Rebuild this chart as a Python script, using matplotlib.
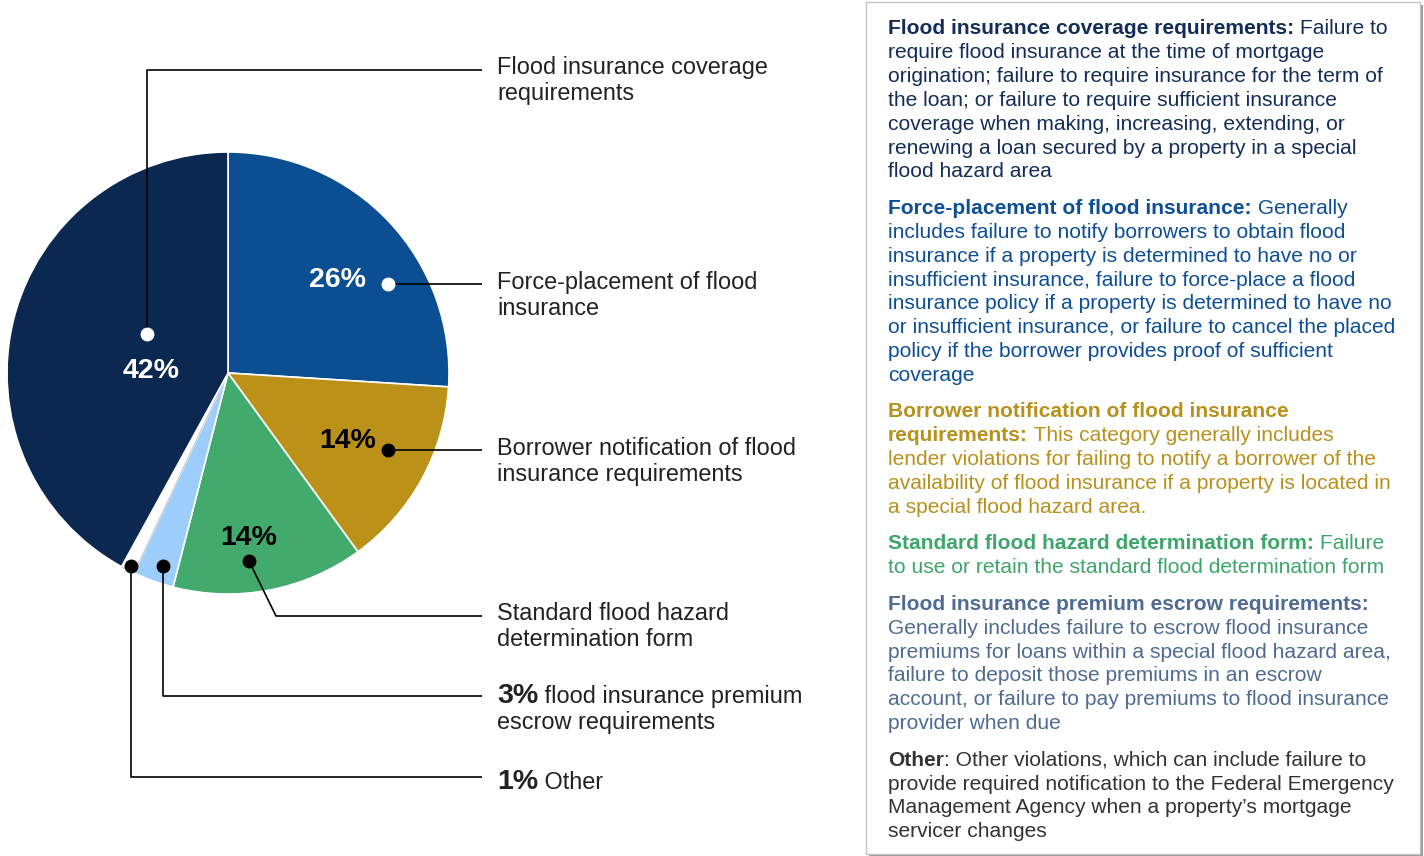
import matplotlib.pyplot as plt
from matplotlib.patches import Rectangle

plt.rcParams['font.family'] = ['Liberation Sans', 'DejaVu Sans']

# Share of flood-insurance violations by category, clockwise from 12 o'clock
categories = ['Force-placement', 'Borrower notification', 'Standard form',
              'Premium escrow', 'Other', 'Coverage requirements']
shares = [26, 14, 14, 3, 1, 42]
slice_colors = ['#0b4e91', '#bb9118', '#41aa6c', '#9ccdfb', '#ffffff', '#0b2850']

W, H = 1424, 856


def py(y):
    # pixel row (from top) -> data y
    return H - y


fig = plt.figure(figsize=(W / 100, H / 100), dpi=100, facecolor='white')
ax = fig.add_axes([0, 0, 1, 1])
wedges, _ = ax.pie(shares, colors=slice_colors, startangle=90, counterclock=False,
                   center=(228, py(373)), radius=221,
                   wedgeprops=dict(edgecolor='white', linewidth=1.2))
wedges[4].set_edgecolor('#c8c8c8')
wedges[4].set_linewidth(0.8)
ax.set_xlim(0, W)
ax.set_ylim(0, H)
ax.set_aspect('auto')
ax.axis('off')

renderer = fig.canvas.get_renderer()


def mixed(x, y, parts, color, size):
    """Draw a line made of (text, bold, size) pieces one after another."""
    for piece in parts:
        txt, bold = piece[0], piece[1]
        sz = piece[2] if len(piece) > 2 else size
        t = ax.text(x, y, txt, fontsize=sz, color=color,
                    fontweight='bold' if bold else 'normal', va='baseline', ha='left')
        x += t.get_window_extent(renderer=renderer).width


# percentage labels inside the pie
pct_pos = {0: (338, 280, 'white'), 1: (348, 441, 'black'), 2: (249, 538, 'black'),
           5: (151, 371, 'white')}
for i, (x, y, c) in pct_pos.items():
    ax.text(x, py(y), f'{shares[i]}%', fontsize=20.5, fontweight='bold', color=c,
            ha='center', va='center')

# leader lines with dots
LX = 482
leaders = [
    ([(147, 334), (147, 70), (LX, 70)], 'white'),
    ([(388, 284), (LX, 284)], 'white'),
    ([(388, 450), (LX, 450)], 'black'),
    ([(249, 561), (276, 616), (LX, 616)], 'black'),
    ([(163, 566), (163, 696), (LX, 696)], 'black'),
    ([(131, 566), (131, 777), (LX, 777)], 'black'),
]
for pts, dot in leaders:
    xs = [p[0] for p in pts]
    ys = [py(p[1]) for p in pts]
    ax.plot(xs, ys, color='black', lw=1.2, solid_capstyle='butt')
    ax.plot(xs[0], ys[0], 'o', ms=9, color=dot, mec=dot, zorder=5)

# category labels to the right of the pie
LBL = '#222222'
LS = 16.9
label_lines = [
    (67, 'Flood insurance coverage'), (93, 'requirements'),
    (282, 'Force-placement of flood'), (308, 'insurance'),
    (448, 'Borrower notification of flood'), (474, 'insurance requirements'),
    (613, 'Standard flood hazard'), (639, 'determination form'),
    (722, 'escrow requirements'),
]
for y, s in label_lines:
    ax.text(497, py(y + 7), s, fontsize=LS, color=LBL, va='baseline')
mixed(497, py(695 + 8), [(f'{shares[3]}%', True, 20.5),
                         (' flood insurance premium', False)], LBL, LS)
mixed(497, py(781 + 8), [(f'{shares[4]}%', True, 20.5), (' Other', False)], LBL, LS)

# definitions panel
ax.add_patch(Rectangle((869, py(857)), 554, 852, facecolor='#9a9a9a', edgecolor='none',
                       zorder=1))
ax.add_patch(Rectangle((866, py(854)), 554, 852, facecolor='white', edgecolor='#c4c4c4',
                       lw=1, zorder=2))

paragraphs = [
    ('#132d58', [
        [('Flood insurance coverage requirements:', True), (' Failure to', False)],
        [('require flood insurance at the time of mortgage', False)],
        [('origination; failure to require insurance for the term of', False)],
        [('the loan; or failure to require sufficient insurance', False)],
        [('coverage when making, increasing, extending, or', False)],
        [('renewing a loan secured by a property in a special', False)],
        [('flood hazard area', False)],
    ]),
    ('#0d4f96', [
        [('Force-placement of flood insurance:', True), (' Generally', False)],
        [('includes failure to notify borrowers to obtain flood', False)],
        [('insurance if a property is determined to have no or', False)],
        [('insufficient insurance, failure to force-place a flood', False)],
        [('insurance policy if a property is determined to have no', False)],
        [('or insufficient insurance, or failure to cancel the placed', False)],
        [('policy if the borrower provides proof of sufficient', False)],
        [('coverage', False)],
    ]),
    ('#b8901c', [
        [('Borrower notification of flood insurance', True)],
        [('requirements:', True), (' This category generally includes', False)],
        [('lender violations for failing to notify a borrower of the', False)],
        [('availability of flood insurance if a property is located in', False)],
        [('a special flood hazard area.', False)],
    ]),
    ('#3ea56b', [
        [('Standard flood hazard determination form:', True), (' Failure', False)],
        [('to use or retain the standard flood determination form', False)],
    ]),
    ('#4f6b91', [
        [('Flood insurance premium escrow requirements:', True)],
        [('Generally includes failure to escrow flood insurance', False)],
        [('premiums for loans within a special flood hazard area,', False)],
        [('failure to deposit those premiums in an escrow', False)],
        [('account, or failure to pay premiums to flood insurance', False)],
        [('provider when due', False)],
    ]),
    ('#333333', [
        [('Other', True), (': Other violations, which can include failure to', False)],
        [('provide required notification to the Federal Emergency', False)],
        [('Management Agency when a property\u2019s mortgage', False)],
        [('servicer changes', False)],
    ]),
]

y = 27
step, gap = 23.9, 12.5
for color, lines in paragraphs:
    for parts in lines:
        mixed(888, py(y + 7), parts, color, 15.1)
        y += step
    y += gap

fig.savefig('out.png', dpi=100, facecolor='white')
plt.close(fig)
